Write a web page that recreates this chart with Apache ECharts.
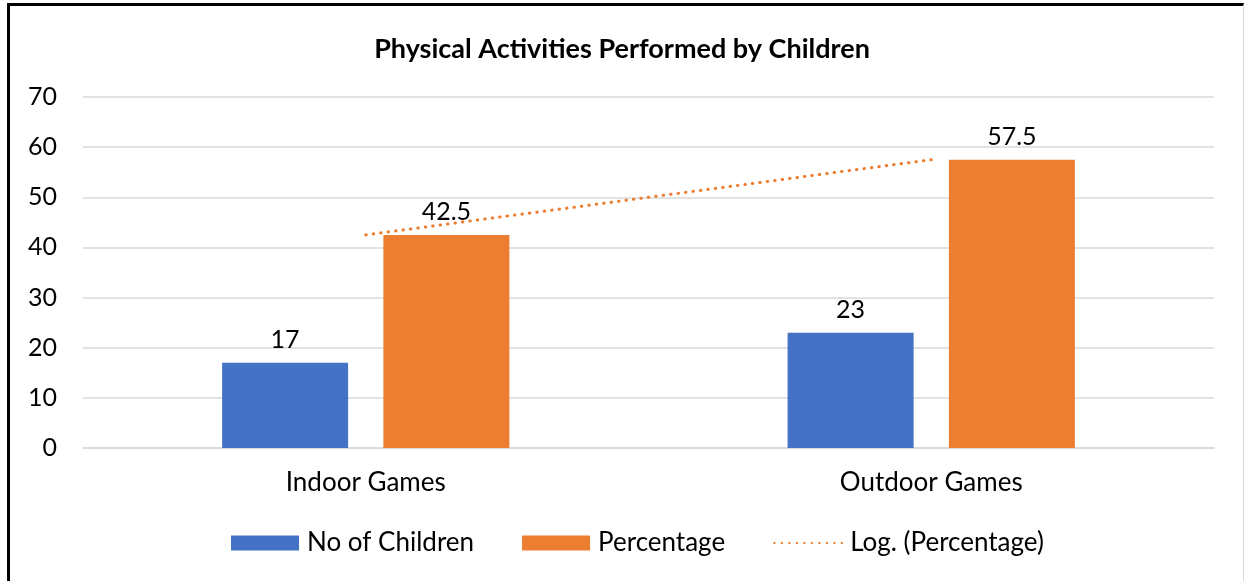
<!DOCTYPE html>
<html>
<head>
<meta charset="utf-8">
<style>
    html, body { margin: 0; padding: 0; background: #fff; }
    #chart { width: 1244px; height: 581px; }
    .frame { position: absolute; left: 7px; top: 3px; width: 1233px; height: 600px;
             border-top: 3px solid #000; border-left: 3px solid #000; border-right: 1px solid #d9d9d9;
             pointer-events: none; }
</style>
<script src="https://cdn.jsdelivr.net/npm/echarts@6/dist/echarts.min.js"></script>
</head>
<body>
<div id="chart"></div>
<div class="frame"></div>
<script>
    // data
    var categories = ['Indoor Games', 'Outdoor Games'];
    var childrenCount = [17, 23];
    var percentage = [42.5, 57.5];
    var trendPercentage = [42.5, 57.5];   // Log. trendline through the two points
    var yTicks = { min: 0, max: 70, interval: 10 };

    var fontFam = 'Lato, "Open Sans", sans-serif';
    var myChart = echarts.init(document.getElementById('chart'));
    myChart.setOption({
        animation: false,
        title: {
            text: 'Physical Activities Performed by Children',
            left: 'center',
            top: 31,
            textStyle: { color: '#000', fontSize: 27, fontWeight: 'bold', fontFamily: fontFam }
        },
        legend: {
            bottom: 20,
            left: 226,
            itemWidth: 68,
            itemHeight: 15,
            itemGap: 48,
            textStyle: { color: '#000', fontSize: 26, fontFamily: fontFam, padding: [0, 0, 0, 3] },
            data: [
                { name: 'No of Children', icon: 'rect' },
                { name: 'Percentage', icon: 'rect' },
                { name: 'Log. (Percentage)', itemStyle: { opacity: 0 } }
            ]
        },
        grid: { left: 83, right: 30, top: 97, bottom: 133 },
        xAxis: {
            type: 'category',
            data: categories,
            axisLine: { lineStyle: { color: '#d9d9d9', width: 1.5 } },
            axisTick: { show: false },
            axisLabel: { color: '#000', fontSize: 26, fontFamily: fontFam, margin: 22 }
        },
        yAxis: {
            type: 'value',
            min: yTicks.min,
            max: yTicks.max,
            interval: yTicks.interval,
            axisLine: { show: false },
            axisTick: { show: false },
            splitLine: { lineStyle: { color: '#d9d9d9', width: 1.5 } },
            axisLabel: { color: '#000', fontSize: 25, fontFamily: fontFam, margin: 26 }
        },
        series: [
            {
                name: 'No of Children',
                type: 'bar',
                data: childrenCount,
                barWidth: 126,
                barGap: '28%',
                itemStyle: { color: '#4472C4' },
                label: { show: true, position: 'top', distance: 10, color: '#000', fontSize: 25, fontFamily: fontFam }
            },
            {
                name: 'Percentage',
                type: 'bar',
                data: percentage,
                barWidth: 126,
                itemStyle: { color: '#ED7D31' },
                label: { show: true, position: 'top', distance: 10, color: '#000', fontSize: 25, fontFamily: fontFam }
            },
            {
                name: 'Log. (Percentage)',
                type: 'line',
                data: trendPercentage,
                symbol: 'none',
                z: 5,
                itemStyle: { color: '#ED7D31' },
                lineStyle: { color: '#ED7D31', width: 3, type: [0.5, 7], cap: 'round' }
            }
        ]
    });
</script>
</body>
</html>
